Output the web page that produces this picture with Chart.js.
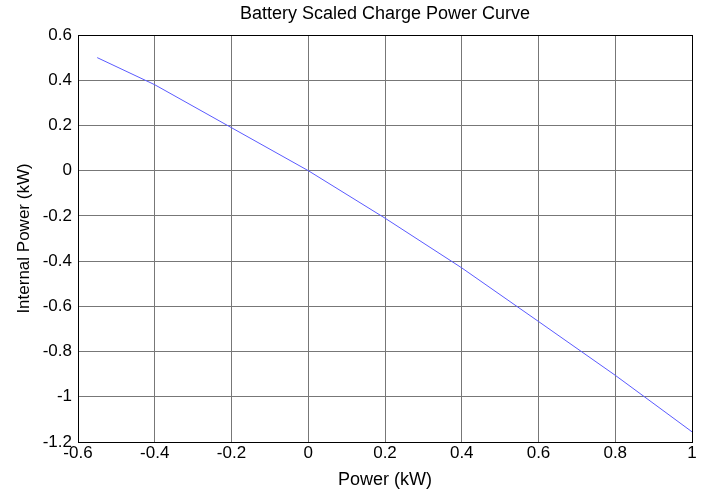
<!DOCTYPE html>
<html>
<head>
<meta charset="utf-8">
<script src="https://cdn.jsdelivr.net/npm/chart.js@4"></script>
<style>
  html, body { margin: 0; padding: 0; background: #fff; }
  #wrap { width: 705px; height: 491px; }
</style>
</head>
<body>
<div id="wrap"><canvas id="curve"></canvas></div>
<script>
// values
const powerKw = [-0.55, -0.4, -0.2, 0, 0.2, 0.4, 0.6, 0.8, 1];
const internalKw = [0.5, 0.38, 0.19, 0, -0.21, -0.43, -0.667, -0.905, -1.155];

const xTicks = [-0.6, -0.4, -0.2, 0, 0.2, 0.4, 0.6, 0.8, 1];
const yTicks = [-1.2, -1, -0.8, -0.6, -0.4, -0.2, 0, 0.2, 0.4, 0.6];

const chartTitle = 'Battery Scaled Charge Power Curve';
const font = 'Liberation Sans, Arial, sans-serif';
const fmt = v => String(parseFloat(v.toFixed(1)));

// box round the plot area and the title centred over it, matlab style
const boxPlugin = {
  id: 'box',
  afterDraw(chart) {
    const a = chart.chartArea;
    const c = chart.ctx;
    c.save();
    c.strokeStyle = '#000';
    c.lineWidth = 1;
    c.strokeRect(Math.round(a.left) + 0.5, Math.round(a.top) + 0.5,
      Math.round(a.right - a.left), Math.round(a.bottom - a.top));
    c.fillStyle = '#000';
    c.font = '18px ' + font;
    c.textAlign = 'center';
    c.textBaseline = 'middle';
    c.fillText(chartTitle, (a.left + a.right) / 2, 14);
    c.restore();
  }
};

new Chart(document.getElementById('curve'), {
  type: 'scatter',
  data: {
    datasets: [{
      data: powerKw.map((x, i) => ({ x, y: internalKw[i] })),
      showLine: true,
      borderColor: 'rgb(90,90,255)',
      borderWidth: 1,
      pointRadius: 0,
      tension: 0
    }]
  },
  options: {
    responsive: true,
    maintainAspectRatio: false,
    animation: false,
    layout: { padding: { top: 35, right: 13, bottom: 0, left: 0 } },
    plugins: {
      legend: { display: false },
      tooltip: { enabled: false },
      title: { display: false }
    },
    scales: {
      x: {
        type: 'linear',
        min: -0.6,
        max: 1,
        afterBuildTicks: s => { s.ticks = xTicks.map(v => ({ value: v })); },
        afterFit: s => { s.height = 49; },
        grid: { color: '#777', drawTicks: false },
        border: { color: '#000' },
        ticks: { color: '#000', padding: 1, maxRotation: 0, font: { family: font, size: 17 }, callback: fmt },
        title: {
          display: true,
          text: 'Power (kW)',
          color: '#000',
          font: { family: font, size: 18 },
          padding: { top: 0, bottom: 0 }
        }
      },
      y: {
        type: 'linear',
        min: -1.2,
        max: 0.6,
        afterBuildTicks: s => { s.ticks = yTicks.map(v => ({ value: v })); },
        afterFit: s => { s.width = 78; },
        grid: { color: '#777', drawTicks: false },
        border: { color: '#000' },
        ticks: { color: '#000', padding: 6, font: { family: font, size: 17 }, callback: fmt },
        title: {
          display: true,
          text: 'Internal Power (kW)',
          color: '#000',
          font: { family: font, size: 17 },
          padding: { top: 14, bottom: 0 }
        }
      }
    }
  },
  plugins: [boxPlugin]
});
</script>
</body>
</html>
